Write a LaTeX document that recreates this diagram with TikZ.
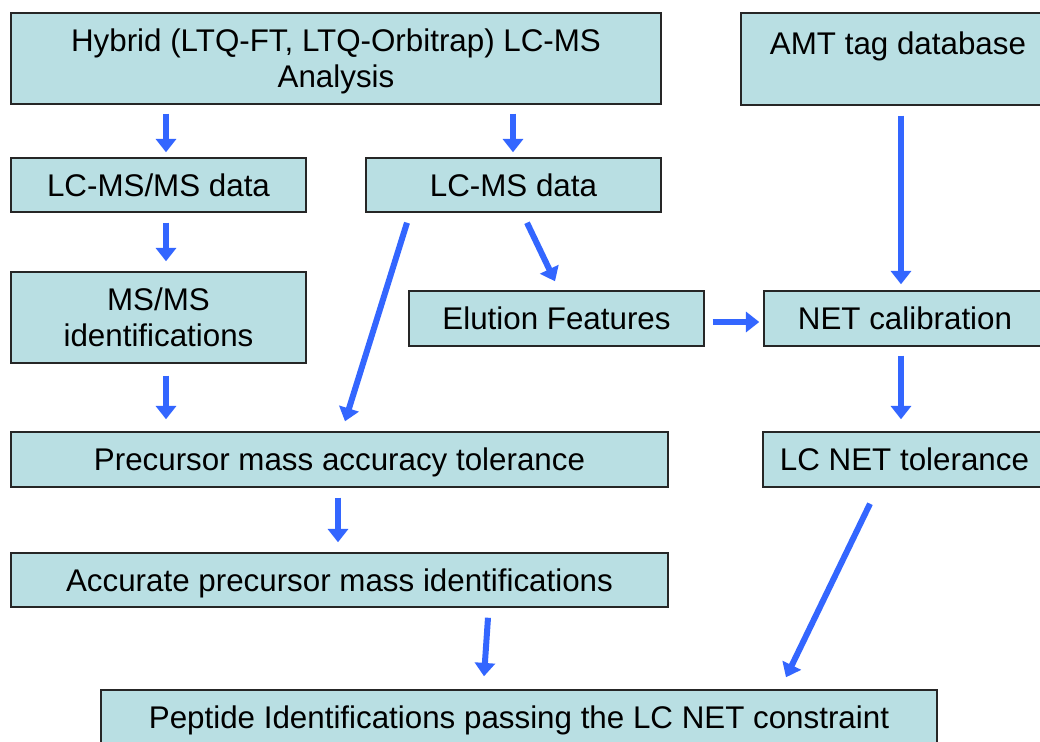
\documentclass[tikz,border=0pt]{standalone}
\usepackage{fontspec}
\setmainfont{Liberation Sans}
\usetikzlibrary{arrows.meta,calc}
\definecolor{boxfill}{RGB}{185,223,227}
\definecolor{arrblue}{RGB}{51,102,255}
\tikzset{
  box/.style 2 args={draw=black!85, line width=1.1pt, fill=boxfill, inner sep=0pt,
    minimum width=#1*0.75pt, minimum height=#2*0.75pt, align=center,
    text depth=0pt, font=\fontsize{23.5}{27}\selectfont},
  oneline/.style={text height=16.8pt, text depth=0pt},
  arr/.style={draw=arrblue, line width=4.5pt,
    -{Triangle[width=15pt,length=10pt]}}
}
\begin{document}
\begin{tikzpicture}[x=0.75pt,y=-0.75pt]
\useasboundingbox (0,0) rectangle (1040,742);
\clip (0,0) rectangle (1040,742);
\fill[white] (0,0) rectangle (1040,742);
% boxes
\node[box={650}{91}] (hybrid) at (336,58.5) {Hybrid (LTQ-FT, LTQ-Orbitrap) LC-MS\\Analysis};
\node[box={315}{92}] (amt) at (898.5,59) {};
\node[anchor=base, font=\fontsize{23.5}{27}\selectfont] (amtlabel) at (898,55) {AMT tag database};
\node[box={295}{54}, oneline] (lcmsms) at (158.5,185) {LC-MS/MS data};
\node[box={295}{54}, oneline] (lcms) at (513.5,185) {LC-MS data};
\node[box={295}{91}] (msmsid) at (158.5,317.5) {MS/MS\\identifications};
\node[box={295}{55}, oneline] (elution) at (556.5,318.5) {Elution Features};
\node[box={282}{55}, oneline] (netcal) at (905,318.5) {NET calibration};
\node[box={657}{55}, oneline] (precursor) at (339.5,459.5) {Precursor mass accuracy tolerance};
\node[box={283}{55}, oneline] (lcnettol) at (904.5,459.5) {LC NET tolerance};
\node[box={657}{54}, oneline] (accurate) at (339.5,580) {Accurate precursor mass identifications};
\node[box={836}{55}, oneline] (peptide) at (519,717.5) {Peptide Identifications passing the LC NET constraint};
% arrows
\draw[arr] ($(hybrid.south)+(-170,9)$) -- ($(lcmsms.north)+(7.5,-5)$);
\draw[arr] ($(hybrid.south)+(177,9)$) -- ($(lcms.north)+(-0.5,-5)$);
\draw[arr] ($(amt.south)+(2.5,10)$) -- ($(netcal.north)+(-4,-6)$);
\draw[arr] ($(lcmsms.south)+(7.5,10)$) -- ($(msmsid.north)+(7.5,-10)$);
\draw[arr] ($(lcms.south)+(-106.5,10)$) -- ($(precursor.north)+(5.5,-10)$);
\draw[arr] ($(lcms.south)+(13.5,10)$) -- ($(elution.north)+(-1.5,-9)$);
\draw[arr] ($(elution.east)+(8,3.5)$) -- ($(netcal.west)+(-4,3.5)$);
\draw[arr] ($(msmsid.south)+(7.5,12)$) -- ($(precursor.north)+(-173.5,-12)$);
\draw[arr] ($(netcal.south)+(-4,9)$) -- ($(lcnettol.north)+(-3.5,-12)$);
\draw[arr] ($(precursor.south)+(-1.5,10)$) -- ($(accurate.north)+(-1.5,-10)$);
\draw[arr] ($(accurate.south)+(148.5,10)$) -- ($(peptide.north)+(-35,-13)$);
\draw[arr] ($(lcnettol.south)+(-34.5,16)$) -- ($(peptide.north)+(267,-12)$);
\end{tikzpicture}
\end{document}
